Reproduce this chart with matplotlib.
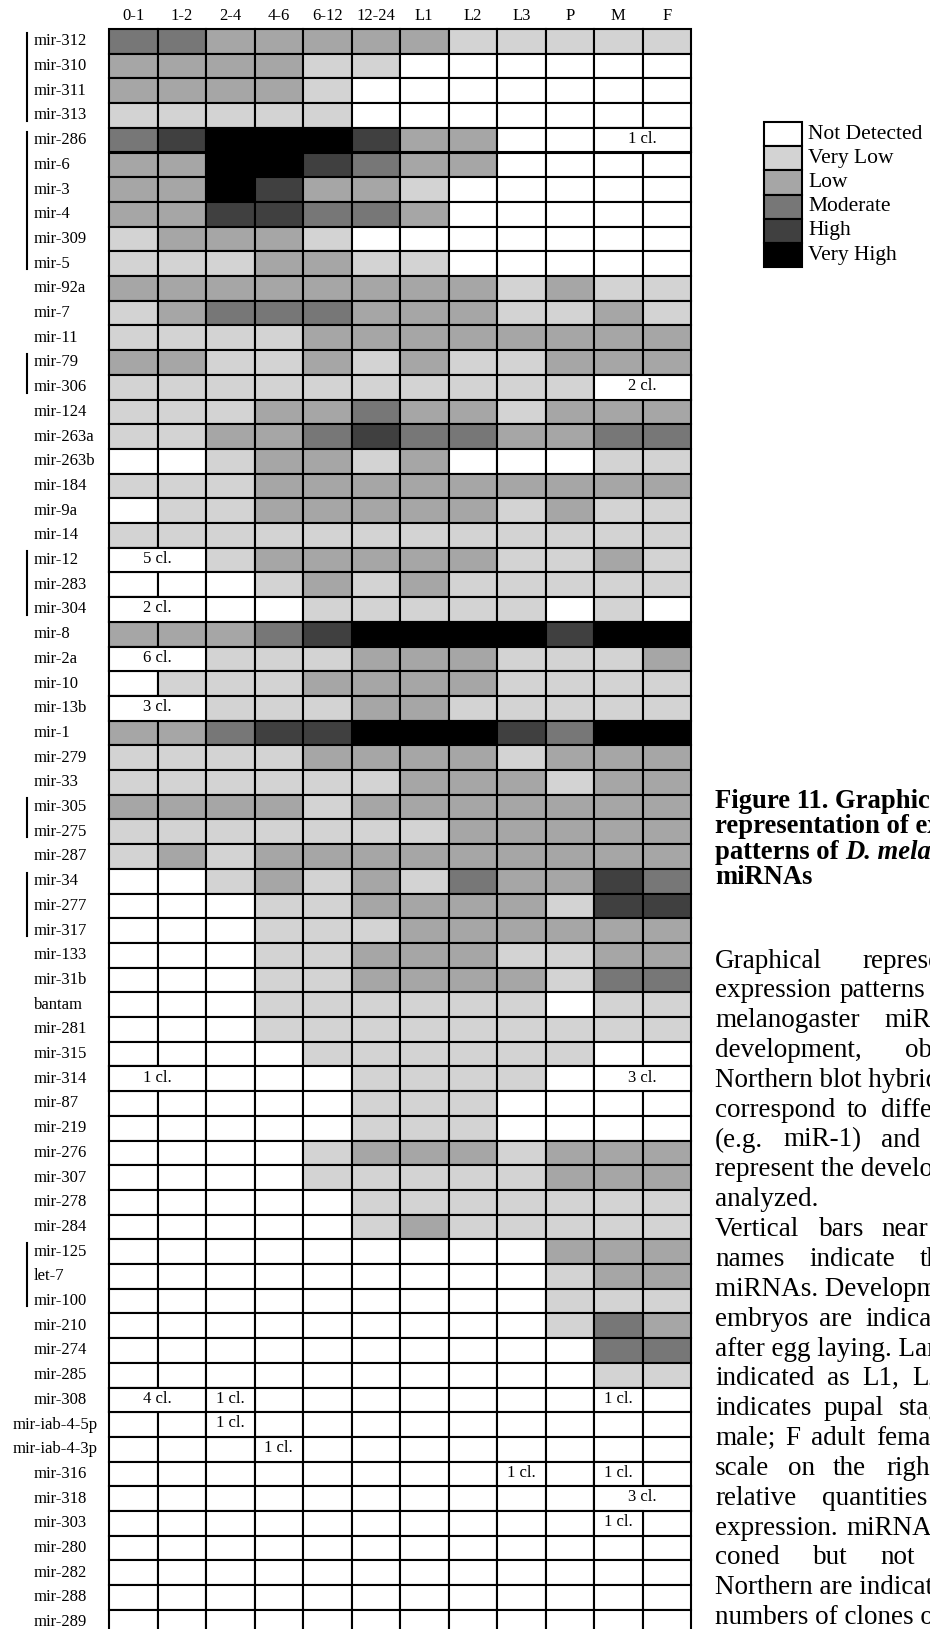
import matplotlib
matplotlib.use("Agg")
import matplotlib.pyplot as plt
from matplotlib.patches import Rectangle
from matplotlib.transforms import blended_transform_factory

# ---------------- data ----------------
stages = ["0-1", "1-2", "2-4", "4-6", "6-12", "12-24", "L1", "L2", "L3", "P", "M", "F"]

mirnas = ["mir-312", "mir-310", "mir-311", "mir-313", "mir-286", "mir-6", "mir-3", "mir-4",
          "mir-309", "mir-5", "mir-92a", "mir-7", "mir-11", "mir-79", "mir-306", "mir-124",
          "mir-263a", "mir-263b", "mir-184", "mir-9a", "mir-14", "mir-12", "mir-283", "mir-304",
          "mir-8", "mir-2a", "mir-10", "mir-13b", "mir-1", "mir-279", "mir-33", "mir-305",
          "mir-275", "mir-287", "mir-34", "mir-277", "mir-317", "mir-133", "mir-31b", "bantam",
          "mir-281", "mir-315", "mir-314", "mir-87", "mir-219", "mir-276", "mir-307", "mir-278",
          "mir-284", "mir-125", "let-7", "mir-100", "mir-210", "mir-274", "mir-285", "mir-308",
          "mir-iab-4-5p", "mir-iab-4-3p", "mir-316", "mir-318", "mir-303", "mir-280", "mir-282",
          "mir-288", "mir-289"]

# expression level: 0 not detected ... 5 very high
levels = [
    [3, 3, 2, 2, 2, 2, 2, 1, 1, 1, 1, 1],  # mir-312
    [2, 2, 2, 2, 1, 1, 0, 0, 0, 0, 0, 0],  # mir-310
    [2, 2, 2, 2, 1, 0, 0, 0, 0, 0, 0, 0],  # mir-311
    [1, 1, 1, 1, 1, 0, 0, 0, 0, 0, 0, 0],  # mir-313
    [3, 4, 5, 5, 5, 4, 2, 2, 0, 0, 0, 0],  # mir-286
    [2, 2, 5, 5, 4, 3, 2, 2, 0, 0, 0, 0],  # mir-6
    [2, 2, 5, 4, 2, 2, 1, 0, 0, 0, 0, 0],  # mir-3
    [2, 2, 4, 4, 3, 3, 2, 0, 0, 0, 0, 0],  # mir-4
    [1, 2, 2, 2, 1, 0, 0, 0, 0, 0, 0, 0],  # mir-309
    [1, 1, 1, 2, 2, 1, 1, 0, 0, 0, 0, 0],  # mir-5
    [2, 2, 2, 2, 2, 2, 2, 2, 1, 2, 1, 1],  # mir-92a
    [1, 2, 3, 3, 3, 2, 2, 2, 1, 1, 2, 1],  # mir-7
    [1, 1, 1, 1, 2, 2, 2, 2, 2, 2, 2, 2],  # mir-11
    [2, 2, 1, 1, 2, 1, 2, 1, 1, 2, 2, 2],  # mir-79
    [1, 1, 1, 1, 1, 1, 1, 1, 1, 1, 0, 0],  # mir-306
    [1, 1, 1, 2, 2, 3, 2, 2, 1, 2, 2, 2],  # mir-124
    [1, 1, 2, 2, 3, 4, 3, 3, 2, 2, 3, 3],  # mir-263a
    [0, 0, 1, 2, 2, 1, 2, 0, 0, 0, 1, 1],  # mir-263b
    [1, 1, 1, 2, 2, 2, 2, 2, 2, 2, 2, 2],  # mir-184
    [0, 1, 1, 2, 2, 2, 2, 2, 1, 2, 1, 1],  # mir-9a
    [1, 1, 1, 1, 1, 1, 1, 1, 1, 1, 1, 1],  # mir-14
    [0, 0, 1, 2, 2, 2, 2, 2, 1, 1, 2, 1],  # mir-12
    [0, 0, 0, 1, 2, 1, 2, 1, 1, 1, 1, 1],  # mir-283
    [0, 0, 0, 0, 1, 1, 1, 1, 1, 0, 1, 0],  # mir-304
    [2, 2, 2, 3, 4, 5, 5, 5, 5, 4, 5, 5],  # mir-8
    [0, 0, 1, 1, 1, 2, 2, 2, 1, 1, 1, 2],  # mir-2a
    [0, 1, 1, 1, 2, 2, 2, 2, 1, 1, 1, 1],  # mir-10
    [0, 0, 1, 1, 1, 2, 2, 1, 1, 1, 1, 1],  # mir-13b
    [2, 2, 3, 4, 4, 5, 5, 5, 4, 3, 5, 5],  # mir-1
    [1, 1, 1, 1, 2, 2, 2, 2, 1, 2, 2, 2],  # mir-279
    [1, 1, 1, 1, 1, 1, 2, 2, 2, 1, 2, 2],  # mir-33
    [2, 2, 2, 2, 1, 2, 2, 2, 2, 2, 2, 2],  # mir-305
    [1, 1, 1, 1, 1, 1, 1, 2, 2, 2, 2, 2],  # mir-275
    [1, 2, 1, 2, 2, 2, 2, 2, 2, 2, 2, 2],  # mir-287
    [0, 0, 1, 2, 1, 2, 1, 3, 2, 2, 4, 3],  # mir-34
    [0, 0, 0, 1, 1, 2, 2, 2, 2, 1, 4, 4],  # mir-277
    [0, 0, 0, 1, 1, 1, 2, 2, 2, 2, 2, 2],  # mir-317
    [0, 0, 0, 1, 1, 2, 2, 2, 1, 1, 2, 2],  # mir-133
    [0, 0, 0, 1, 1, 2, 2, 2, 2, 1, 3, 3],  # mir-31b
    [0, 0, 0, 1, 1, 1, 1, 1, 1, 0, 1, 1],  # bantam
    [0, 0, 0, 1, 1, 1, 1, 1, 1, 1, 1, 1],  # mir-281
    [0, 0, 0, 0, 1, 1, 1, 1, 1, 1, 0, 0],  # mir-315
    [0, 0, 0, 0, 0, 1, 1, 1, 1, 0, 0, 0],  # mir-314
    [0, 0, 0, 0, 0, 1, 1, 1, 0, 0, 0, 0],  # mir-87
    [0, 0, 0, 0, 0, 1, 1, 1, 0, 0, 0, 0],  # mir-219
    [0, 0, 0, 0, 1, 2, 2, 2, 1, 2, 2, 2],  # mir-276
    [0, 0, 0, 0, 1, 1, 1, 1, 1, 2, 2, 2],  # mir-307
    [0, 0, 0, 0, 0, 1, 1, 1, 1, 1, 1, 1],  # mir-278
    [0, 0, 0, 0, 0, 1, 2, 1, 1, 1, 1, 1],  # mir-284
    [0, 0, 0, 0, 0, 0, 0, 0, 0, 2, 2, 2],  # mir-125
    [0, 0, 0, 0, 0, 0, 0, 0, 0, 1, 2, 2],  # let-7
    [0, 0, 0, 0, 0, 0, 0, 0, 0, 1, 1, 1],  # mir-100
    [0, 0, 0, 0, 0, 0, 0, 0, 0, 1, 3, 2],  # mir-210
    [0, 0, 0, 0, 0, 0, 0, 0, 0, 0, 3, 3],  # mir-274
    [0, 0, 0, 0, 0, 0, 0, 0, 0, 0, 1, 1],  # mir-285
    [0, 0, 0, 0, 0, 0, 0, 0, 0, 0, 0, 0],  # mir-308
    [0, 0, 0, 0, 0, 0, 0, 0, 0, 0, 0, 0],  # mir-iab-4-5p
    [0, 0, 0, 0, 0, 0, 0, 0, 0, 0, 0, 0],  # mir-iab-4-3p
    [0, 0, 0, 0, 0, 0, 0, 0, 0, 0, 0, 0],  # mir-316
    [0, 0, 0, 0, 0, 0, 0, 0, 0, 0, 0, 0],  # mir-318
    [0, 0, 0, 0, 0, 0, 0, 0, 0, 0, 0, 0],  # mir-303
    [0, 0, 0, 0, 0, 0, 0, 0, 0, 0, 0, 0],  # mir-280
    [0, 0, 0, 0, 0, 0, 0, 0, 0, 0, 0, 0],  # mir-282
    [0, 0, 0, 0, 0, 0, 0, 0, 0, 0, 0, 0],  # mir-288
    [0, 0, 0, 0, 0, 0, 0, 0, 0, 0, 0, 0],  # mir-289
]

# clusters (first miRNA, last miRNA) marked with vertical bars
clusters = [("mir-312", "mir-313"), ("mir-286", "mir-5"), ("mir-79", "mir-306"),
            ("mir-12", "mir-304"), ("mir-305", "mir-275"), ("mir-34", "mir-317"),
            ("mir-125", "mir-100")]

# cloned but not detected: (miRNA, first stage, last stage, text)
clones = [("mir-286", "M", "F", "1 cl."), ("mir-306", "M", "F", "2 cl."),
          ("mir-12", "0-1", "1-2", "5 cl."), ("mir-304", "0-1", "1-2", "2 cl."),
          ("mir-2a", "0-1", "1-2", "6 cl."), ("mir-13b", "0-1", "1-2", "3 cl."),
          ("mir-314", "0-1", "1-2", "1 cl."), ("mir-314", "M", "F", "3 cl."),
          ("mir-308", "0-1", "1-2", "4 cl."), ("mir-308", "2-4", "2-4", "1 cl."),
          ("mir-308", "M", "M", "1 cl."), ("mir-iab-4-5p", "2-4", "2-4", "1 cl."),
          ("mir-iab-4-3p", "4-6", "4-6", "1 cl."), ("mir-316", "L3", "L3", "1 cl."),
          ("mir-316", "M", "M", "1 cl."), ("mir-318", "M", "F", "3 cl."),
          ("mir-303", "M", "M", "1 cl.")]

legend_labels = ["Not Detected", "Very Low", "Low", "Moderate", "High", "Very High"]
level_colors = ["#ffffff", "#d3d3d3", "#a6a6a6", "#777777", "#404040", "#000000"]

title_lines = ["Figure 11. Graphical", "representation of expression", "patterns of ", "miRNAs"]
title_italic = "D. melanogaster"
body_lines = [
    ["Graphical", "representation"],
    ["expression", "patterns"],
    ["melanogaster", "miRNAs"],
    ["development,", "obtained"],
    ["Northern blot hybridization."],
    ["correspond", "to", "different"],
    ["(e.g.", "miR-1)", "and"],
    ["represent the developmental"],
    ["analyzed."],
    ["Vertical", "bars", "near"],
    ["names", "indicate", "the"],
    ["miRNAs. Developmental"],
    ["embryos", "are", "indicated"],
    ["after egg laying. Larval"],
    ["indicated", "as", "L1,", "L2,"],
    ["indicates", "pupal", "stage;"],
    ["male;", "F", "adult", "female."],
    ["scale", "on", "the", "right"],
    ["relative", "quantities"],
    ["expression.", "miRNAs"],
    ["coned", "but", "not"],
    ["Northern are indicated"],
    ["numbers of clones obtained"],
]
# word x positions (pixels) for the justified lines
body_word_x = [
    [715, 862], [715, 840], [715, 884], [715, 905], [715], [715, 847, 881],
    [715, 783, 881], [715], [715], [715, 819, 881], [715, 809, 920], [715],
    [715, 819, 865], [715], [715, 827, 862, 912], [715, 824, 899],
    [715, 785, 811, 876], [715, 788, 833, 886], [715, 822], [715, 846],
    [715, 813, 880], [715], [715],
]

# ---------------- layout ----------------
W, H = 930, 1629
plt.rcParams["font.family"] = ["Liberation Serif", "DejaVu Serif"]
fig = plt.figure(figsize=(W / 100, H / 100), dpi=100)
fig.patch.set_facecolor("white")


def fx(px):
    return px / W


def fy(py):
    return 1 - py / H


GRID_L, GRID_R, GRID_T, ROW_H = 109, 691, 29, 24.7
n_rows, n_cols = len(mirnas), len(stages)
grid_h = n_rows * ROW_H
ax = fig.add_axes([fx(GRID_L), fy(GRID_T + grid_h), (GRID_R - GRID_L) / W, grid_h / H])
ax.set_xlim(0, n_cols)
ax.set_ylim(n_rows, 0)
ax.axis("off")

LW = 1.5
for i, row in enumerate(levels):
    for j, lv in enumerate(row):
        ax.add_patch(Rectangle((j, i), 1, 1, facecolor=level_colors[lv],
                               edgecolor="black", linewidth=LW, clip_on=False))

for name, s0, s1, txt in clones:
    i = mirnas.index(name)
    j0, j1 = stages.index(s0), stages.index(s1)
    ax.add_patch(Rectangle((j0, i), j1 - j0 + 1, 1, facecolor="white",
                           edgecolor="black", linewidth=LW, clip_on=False, zorder=3))
    ax.text((j0 + j1 + 1) / 2, i + 0.45, txt, ha="center", va="center",
            fontsize=12, zorder=4)

for j, s in enumerate(stages):
    ax.text(j + 0.5, -0.52, s, ha="center", va="center", fontsize=12, clip_on=False)

lab_tr = blended_transform_factory(fig.transFigure, ax.transData)
for i, name in enumerate(mirnas):
    x0 = 13 if len(name) > 9 else 34
    ax.text(fx(x0), i + 0.5, name, transform=lab_tr, ha="left", va="center",
            fontsize=12, clip_on=False)

for a, b in clusters:
    r0, r1 = mirnas.index(a), mirnas.index(b)
    ax.plot([fx(27), fx(27)], [r0 + 0.15, r1 + 0.72], transform=lab_tr,
            color="black", linewidth=1.5, clip_on=False)

# ---------------- legend ----------------
LEG_L, LEG_R, LEG_T, LEG_H = 764, 802, 122, 24.2
lax = fig.add_axes([fx(LEG_L), fy(LEG_T + 6 * LEG_H), (LEG_R - LEG_L) / W, 6 * LEG_H / H])
lax.set_xlim(0, 1)
lax.set_ylim(len(legend_labels), 0)
lax.axis("off")
leg_tr = blended_transform_factory(fig.transFigure, lax.transData)
for k, (lab, col) in enumerate(zip(legend_labels, level_colors)):
    lax.add_patch(Rectangle((0, k), 1, 1, facecolor=col, edgecolor="black",
                            linewidth=LW, clip_on=False))
    lax.text(fx(808), k + 0.5, lab, transform=leg_tr, ha="left", va="center",
             fontsize=15.5, clip_on=False)

# ---------------- caption text ----------------
TXT_X = 715
TITLE_SP = 25.6
BODY_SP = 29.85
TITLE_Y0 = 801
BODY_Y0 = 961
TITLE_FS = 19.2
BODY_FS = 19.5

renderer = fig.canvas.get_renderer()
for k, line in enumerate(title_lines):
    y = fy(TITLE_Y0 + k * TITLE_SP)
    t = fig.text(fx(TXT_X), y, line, ha="left", va="center", fontsize=TITLE_FS,
                 fontweight="bold")
    if k == 2:
        bb = t.get_window_extent(renderer=renderer)
        fig.text(bb.x1 / W, y, title_italic, ha="left", va="center", fontsize=TITLE_FS,
                 fontweight="bold", fontstyle="italic")

for k, (words, xs) in enumerate(zip(body_lines, body_word_x)):
    y = fy(BODY_Y0 + k * BODY_SP)
    for w, x in zip(words, xs):
        fig.text(fx(x), y, w, ha="left", va="center", fontsize=BODY_FS)

fig.savefig("out.png", dpi=100)
